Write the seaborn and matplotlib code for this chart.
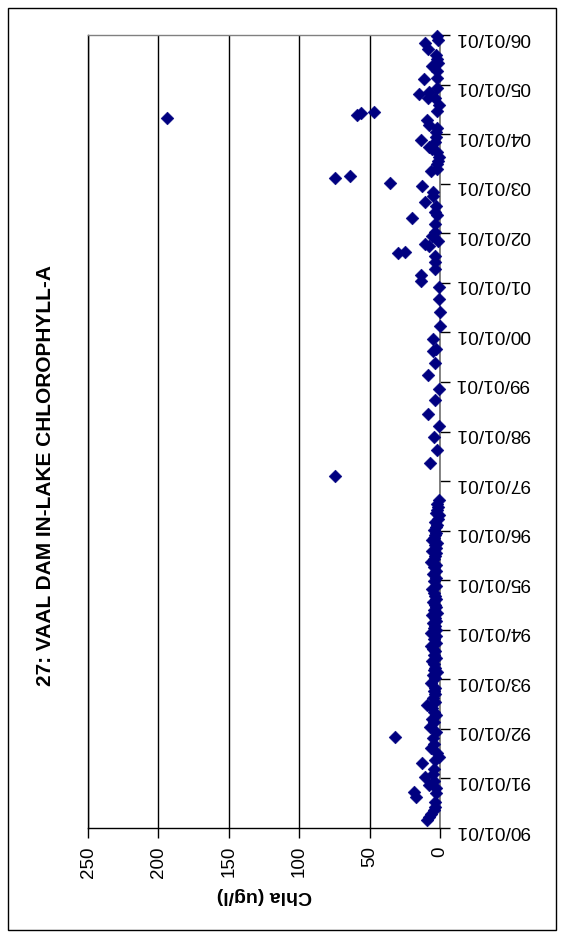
import matplotlib
matplotlib.use("Agg")
import matplotlib.pyplot as plt
import matplotlib.dates as mdates
from matplotlib.patches import Rectangle
import pandas as pd
import seaborn as sns

title = "27: VAAL DAM IN-LAKE CHLOROPHYLL-A"
value_label = "Chla (ug/l)"
chla_ticks = [0, 50, 100, 150, 200, 250]

sample_dates = [
    # 1990
    "1990-02-28", "1990-03-25", "1990-04-12", "1990-05-12", "1990-06-07", "1990-07-13",
    "1990-08-18", "1990-09-13", "1990-09-24", "1990-10-20", "1990-11-14", "1990-12-12",
    # 1991
    "1991-01-15", "1991-02-06", "1991-03-14", "1991-04-28", "1991-05-20", "1991-06-10",
    "1991-07-05", "1991-08-11", "1991-09-15", "1991-10-23", "1991-11-03", "1991-12-08",
    # 1992
    "1992-01-18", "1992-02-20", "1992-03-17", "1992-04-15", "1992-05-08", "1992-06-01",
    "1992-06-25", "1992-07-19", "1992-08-15", "1992-09-13", "1992-10-10", "1992-10-30",
    "1992-12-05",
    # 1993
    "1993-01-10", "1993-02-05", "1993-02-20", "1993-03-10", "1993-03-28", "1993-04-20",
    "1993-05-15", "1993-06-05", "1993-06-28", "1993-07-26", "1993-08-10", "1993-09-01",
    "1993-09-25", "1993-10-23", "1993-11-15", "1993-12-10", "1993-12-28",
    # 1994
    "1994-01-15", "1994-01-30", "1994-02-20", "1994-03-10", "1994-04-01", "1994-04-20",
    "1994-05-08", "1994-05-30", "1994-06-20", "1994-07-05", "1994-07-28", "1994-08-15",
    "1994-09-05", "1994-09-28", "1994-10-27", "1994-11-20", "1994-12-24",
    # 1995
    "1995-01-20", "1995-02-15", "1995-03-10", "1995-04-05", "1995-04-25", "1995-05-15",
    "1995-06-05", "1995-07-01", "1995-07-20", "1995-08-07", "1995-08-28", "1995-09-16",
    "1995-10-05", "1995-10-23", "1995-11-10", "1995-11-28", "1995-12-15",
    # 1996
    "1996-01-05", "1996-01-25", "1996-02-10", "1996-03-05", "1996-03-28", "1996-04-23",
    "1996-05-10", "1996-05-30", "1996-06-25", "1996-07-15", "1996-08-11",
    # 1997 - 2000
    "1997-02-06", "1997-05-15", "1997-08-15", "1997-11-18",
    "1998-02-10", "1998-05-12", "1998-08-18", "1998-11-10",
    "1999-02-20", "1999-05-18", "1999-08-20", "1999-09-01", "1999-11-14",
    "2000-02-20", "2000-05-28", "2000-09-05", "2000-11-28",
    # 2001
    "2001-01-12", "2001-02-24", "2001-04-12", "2001-06-03", "2001-07-16", "2001-08-08",
    "2001-08-18", "2001-10-01", "2001-10-16", "2001-11-07", "2001-12-10",
    # 2002
    "2002-01-08", "2002-03-12", "2002-04-24", "2002-05-12", "2002-06-07", "2002-07-24",
    "2002-08-22", "2002-10-05", "2002-11-03", "2002-12-13",
    # 2003
    "2003-01-05", "2003-02-10", "2003-02-28", "2003-04-08", "2003-04-23", "2003-05-28",
    "2003-06-15", "2003-07-20", "2003-08-25", "2003-09-15", "2003-10-01", "2003-11-07",
    "2003-11-18", "2003-12-12",
    # 2004
    "2004-01-18", "2004-02-13", "2004-03-10", "2004-04-15", "2004-04-26", "2004-05-18",
    "2004-06-03", "2004-06-10", "2004-06-18", "2004-08-05", "2004-09-24", "2004-09-26",
    "2004-10-23", "2004-11-10", "2004-12-05",
    # 2005
    "2005-02-10", "2005-02-17", "2005-04-08", "2005-05-15", "2005-06-12", "2005-07-08",
    "2005-08-08", "2005-09-20", "2005-11-03", "2005-11-25", "2005-12-28",
]

chla = [
    # 1990
    9.1, 8.0, 6.7, 4.4, 3.2, 3.2, 17.4, 2.5, 18.6, 3.0, 8.0, 4.0,
    # 1991
    10.3, 5.1, 4.4, 13.1, 3.5, 0.9, 2.0, 6.7, 4.0, 5.1, 31.9, 3.0,
    # 1992
    7.2, 4.5, 5.5, 3.0, 4.4, 6.0, 9.1, 3.7, 5.0, 3.7, 4.5, 3.2, 6.7,
    # 1993
    3.5, 5.0, 2.0, 4.0, 3.2, 4.5, 5.5, 2.5, 4.0, 3.2, 5.0, 6.7, 3.0, 4.4, 3.0, 6.7, 2.5,
    # 1994
    4.0, 3.2, 5.0, 2.5, 3.7, 5.5, 2.0, 4.0, 3.0, 3.2, 5.0, 2.5, 3.2, 4.5, 5.5, 3.0, 4.4,
    # 1995
    3.0, 5.0, 2.5, 4.4, 3.0, 6.7, 4.0, 3.7, 2.5, 5.5, 3.0, 3.7, 2.0, 5.5, 4.0, 3.2, 2.5,
    # 1996
    4.4, 3.0, 2.0, 3.5, 1.5, 0.9, 2.5, 2.0, 1.5, 2.0, 0.9,
    # 1997 - 2000
    74.5, 7.2, 2.0, 4.4,
    0.4, 8.4, 3.2, 0.4,
    8.4, 3.2, 5.1, 2.7, 5.1,
    0.3, 0.3, 0.4, 0.5,
    # 2001
    13.4, 13.4, 3.2, 3.2, 3.2, 29.7, 25.0, 8.0, 10.3, 1.3, 5.5,
    # 2002
    3.7, 3.2, 19.7, 2.0, 3.7, 2.5, 10.3, 5.1, 5.1, 13.1,
    # 2003
    35.3, 74.5, 63.9, 6.7, 2.0, 2.0, 1.5, 0.9, 2.0, 5.5, 8.0, 3.2, 13.8, 3.0,
    # 2004
    2.5, 2.0, 8.0, 9.1, 194.0, 58.7, 56.3, 46.8, 2.0, 0.9, 8.4, 3.2, 15.0, 8.0, 2.0,
    # 2005
    11.5, 2.0, 2.0, 6.0, 1.5, 2.0, 3.0, 8.4, 10.3, 1.3, 2.0,
]

df = pd.DataFrame({"date": pd.to_datetime(sample_dates), "chla": chla})

W, H, DPI = 574, 938, 100
fig = plt.figure(figsize=(W / DPI, H / DPI), dpi=DPI)
fig.patch.set_facecolor("white")

font = ["Liberation Sans", "DejaVu Sans"]
plt.rcParams["font.family"] = font

# plot area (pixel box: x 88-440, y 35-828)
ax = fig.add_axes([88 / W, 1 - 828 / H, (440 - 88) / W, (828 - 35) / H])

sns.scatterplot(data=df, x="chla", y="date", ax=ax, marker="D", s=42,
                color="#000080", edgecolor="#000080", linewidth=0.4, zorder=3,
                legend=False, clip_on=False)

ax.set_xlim(250, 0)
ax.set_ylim(pd.Timestamp("1990-01-01"), pd.Timestamp("2006-01-01"))

ax.set_xticks(chla_ticks)
ax.set_xticklabels([str(t) for t in chla_ticks], rotation=90, fontsize=13.5)
ax.grid(axis="x", color="black", linewidth=1, zorder=1)
ax.grid(axis="y", visible=False)

ax.yaxis.tick_right()
ax.yaxis.set_major_locator(mdates.YearLocator(1, month=1, day=1))
ax.yaxis.set_major_formatter(mdates.DateFormatter("%y/%m/%d"))
for lbl in ax.get_yticklabels():
    lbl.set_rotation(180)
    lbl.set_fontsize(13.8)

ax.tick_params(axis="x", direction="out", length=7, width=1, pad=6, colors="black")
ax.tick_params(axis="y", direction="out", length=7, width=1, pad=4, colors="black")

for side in ("left", "bottom"):
    ax.spines[side].set_color("black")
    ax.spines[side].set_linewidth(1)
ax.spines["top"].set_color("#808080")
ax.spines["top"].set_linewidth(1)
ax.spines["right"].set_color("#707070")
ax.spines["right"].set_linewidth(1.2)

ax.set_xlabel(value_label, fontsize=14, fontweight="bold", rotation=180, labelpad=7)
ax.set_ylabel("")

fig.text(46 / W, 1 - 476 / H, title, rotation=90, ha="center", va="center",
         fontsize=15, fontweight="bold")

# chart frame
fig.patches.append(Rectangle((8 / W, 1 - 930 / H), (556 - 8) / W, (930 - 8) / H,
                             transform=fig.transFigure, fill=False,
                             edgecolor="black", linewidth=1))

fig.savefig("out.png", dpi=DPI, facecolor="white")
